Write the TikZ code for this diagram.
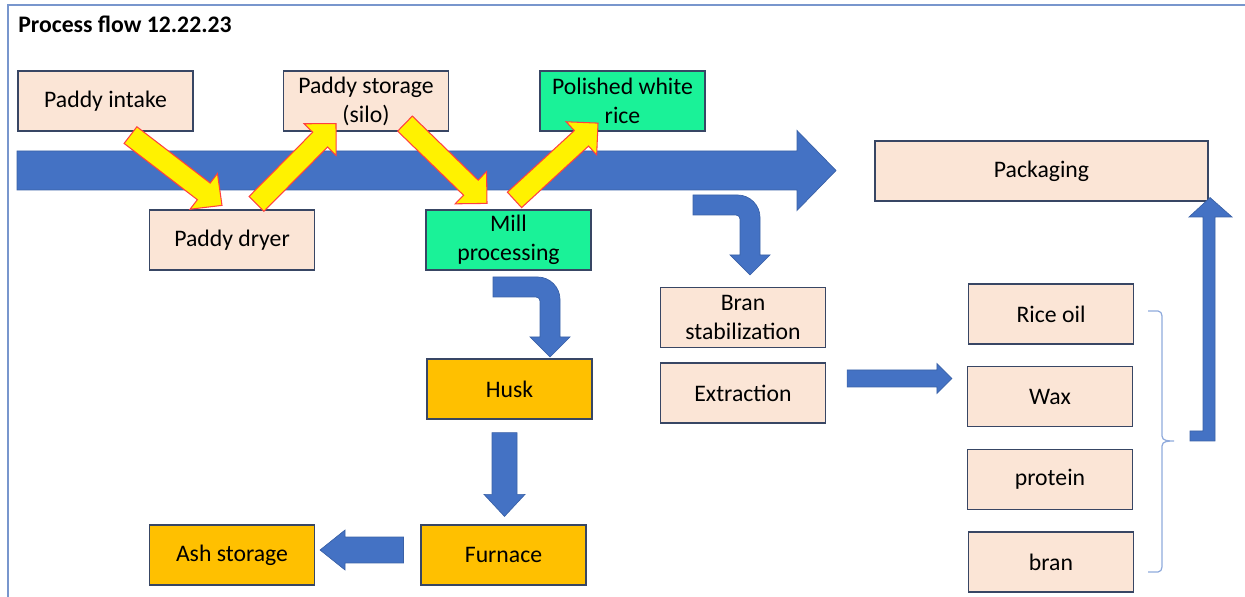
\documentclass[tikz,border=0pt]{standalone}
\usepackage{fontspec}
\setmainfont{Carlito}
\usetikzlibrary{calc, positioning}

\definecolor{peach}{RGB}{251,229,214}
\definecolor{mint}{RGB}{26,242,152}
\definecolor{amber}{RGB}{255,192,0}
\definecolor{flowblue}{RGB}{68,114,196}
\definecolor{boxline}{RGB}{56,70,100}
\definecolor{bracecol}{RGB}{143,170,220}
\definecolor{framecol}{RGB}{120,150,205}

% block arrow: style, from, to, half shaft, half head, head length
\newcommand{\flowarrow}[6]{%
    \coordinate (fa-h) at ($(#3)!#6!(#2)$);
    \path[#1] ($(#2)!#4!90:(#3)$) -- ($(fa-h)!#4!90:(#3)$) -- ($(fa-h)!#5!90:(#3)$) -- (#3)
        -- ($(fa-h)!#5!-90:(#3)$) -- ($(fa-h)!#4!-90:(#3)$) -- ($(#2)!#4!-90:(#3)$) -- cycle;
}
% bent arrow (right, then down), #1 = its top left corner
\newcommand{\bentarrow}[1]{%
    \begin{scope}[shift={(#1)}]
        \path[bluearrow] (0,0) [rounded corners=0.45cm] -- (67,0) [sharp corners] -- (67,60) -- (77,60)
            -- (57,80) -- (37,60) -- (47,60) [rounded corners=0.08cm] -- (47,20) [sharp corners] -- (0,20) -- cycle;
    \end{scope}
}

\begin{document}
\begin{tikzpicture}[
    x=0.02cm, y=-0.02cm,
    box/.style={rectangle, draw=boxline, line width=0.7pt, minimum width=3.3cm, minimum height=1.2cm,
        align=center, inner sep=2pt, font=\fontsize{13.5}{16.5}\selectfont},
    plain/.style={box, fill=peach},
    mill/.style={box, fill=mint},
    fuel/.style={box, fill=amber},
    bluearrow/.style={fill=flowblue, draw=flowblue!85!black, line width=0.4pt},
    yellowarrow/.style={fill=yellow, draw=red!75, line width=0.6pt},
    brace/.style={draw=bracecol, line width=0.7pt}
]
    \useasboundingbox (0,0) rectangle (1245,597);

    % frame and title
    \draw[framecol, line width=1.2pt] (1245,5) -- (8,5) -- (8,597);
    \node[anchor=west, inner sep=0pt, font=\fontsize{13.5}{16.5}\selectfont\bfseries] (title) at (18,24) {Process flow 12.22.23};

    % main flow arrow
    \coordinate (flowstart) at (17,170.5);
    \coordinate (flowend) at (836,170.5);
    \flowarrow{bluearrow}{flowstart}{flowend}{0.39cm}{0.8cm}{0.78cm}

    % nodes
    \node[plain, minimum width=3.5cm] (intake) at (105.5,101) {Paddy intake};
    \node[plain] (storage) at (366,101) {Paddy storage\\(silo)};
    \node[mill] (polished) at (622.5,101) {Polished white\\rice};
    \node[plain] (dryer) at (232,240) {Paddy dryer};
    \node[mill] (milling) at (508.5,240) {Mill\\processing};
    \node[plain, minimum width=6.66cm] (packaging) at (1041.5,171) {Packaging};

    \node[plain] (branstab) at (743,317.5) {Bran\\stabilization};
    \node[plain] (extraction) at (743,393) {Extraction};

    \node[plain] (riceoil) at (1051,314) {Rice oil};
    \node[plain] (wax) at (1050,396.5) {Wax};
    \node[plain] (protein) at (1050,479.5) {protein};
    \node[plain] (bran) at (1051,562) {bran};

    \node[fuel] (husk) at (509.5,389) {Husk};
    \node[fuel] (furnace) at (503.5,555) {Furnace};
    \node[fuel] (ash) at (232,555) {Ash storage};

    % yellow arrows between the steps
    \coordinate (y1a) at ($(intake.south)+(25,3.5)$);
    \coordinate (y1b) at ($(dryer.north)+(-10,-4)$);
    \flowarrow{yellowarrow}{y1a}{y1b}{0.21cm}{0.45cm}{0.46cm}
    \coordinate (y2a) at ($(dryer.north)+(24.5,-5.5)$);
    \coordinate (y2b) at ($(storage.south)+(-30,-8)$);
    \flowarrow{yellowarrow}{y2a}{y2b}{0.21cm}{0.45cm}{0.45cm}
    \coordinate (y3a) at ($(storage.south)+(39,-8)$);
    \coordinate (y3b) at ($(milling.north)+(-21.5,-6)$);
    \flowarrow{yellowarrow}{y3a}{y3b}{0.21cm}{0.45cm}{0.45cm}
    \coordinate (y4a) at ($(milling.north)+(6,-9.5)$);
    \coordinate (y4b) at ($(polished.south)+(-24.5,-8.5)$);
    \flowarrow{yellowarrow}{y4a}{y4b}{0.21cm}{0.45cm}{0.45cm}

    % blue arrows
    \bentarrow{693,195}
    \bentarrow{493,277}

    \coordinate (h1) at ($(husk.south)+(-5,13)$);
    \coordinate (h2) at ($(furnace.north)+(1,-8)$);
    \flowarrow{bluearrow}{h1}{h2}{0.25cm}{0.41cm}{0.44cm}

    \coordinate (f1) at ($(furnace.west)+(-17,-5)$);
    \coordinate (f2) at ($(ash.east)+(5,-5)$);
    \flowarrow{bluearrow}{f1}{f2}{0.26cm}{0.4cm}{0.5cm}

    \coordinate (e1) at ($(extraction.east)+(21,-14.5)$);
    \coordinate (e2) at ($(wax.west)+(-15,-18)$);
    \flowarrow{bluearrow}{e1}{e2}{0.17cm}{0.3cm}{0.3cm}

    % products up to packaging
    \coordinate (uptip) at ($(packaging.south east)+(1.5,-4)$);
    \path[bluearrow] (1190,431) -- (1203,431) -- (1203,217) -- (1189,217) -- (uptip)
        -- (1232,217) -- (1215,217) -- (1215,441) -- (1190,441) -- cycle;

    % brace round the products
    \draw[brace] (1148,311) -- (1158,311) to[out=0,in=90] (1162,316) -- (1162,436)
        to[out=270,in=180] (1174,441) to[out=180,in=90] (1162,446) -- (1162,567)
        to[out=270,in=0] (1158,572) -- (1148,572);
\end{tikzpicture}
\end{document}
